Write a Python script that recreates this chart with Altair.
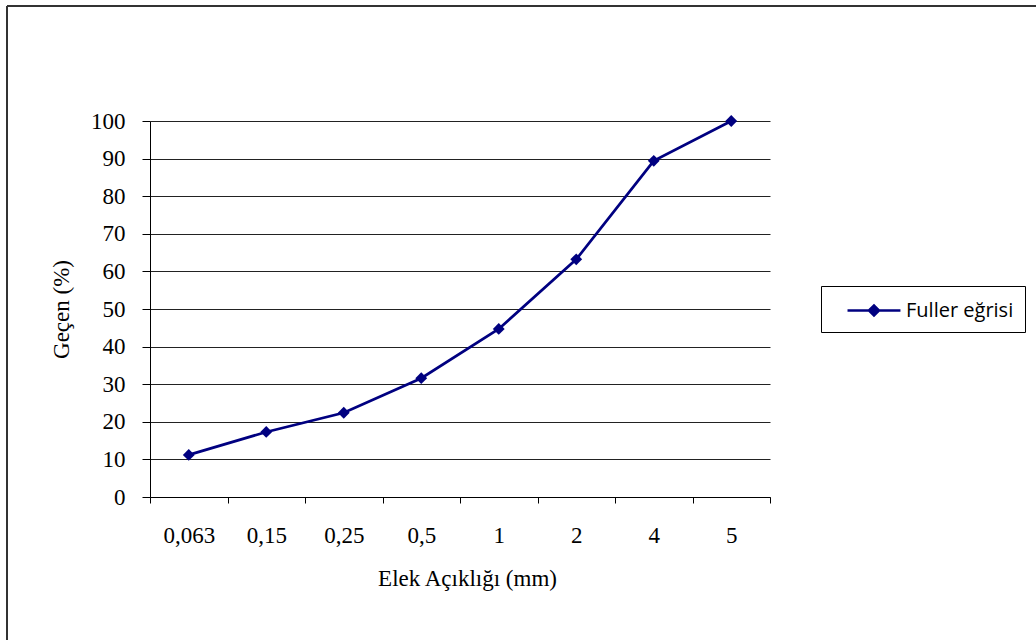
import altair as alt
import pandas as pd

sieve_sizes = ["0,063", "0,15", "0,25", "0,5", "1", "2", "4", "5"]
passing_pct = [11.2, 17.3, 22.4, 31.6, 44.7, 63.2, 89.4, 100.0]
y_ticks = [0, 10, 20, 30, 40, 50, 60, 70, 80, 90, 100]
series_name = "Fuller eğrisi"

df = pd.DataFrame({"size": sieve_sizes, "pct": passing_pct, "series": [series_name] * len(sieve_sizes)})

serif = "Liberation Serif"
navy = "#000080"

x_enc = alt.X(
    "size:N",
    sort=sieve_sizes,
    bandPosition=0.5,
    scale=alt.Scale(type="band", paddingInner=0, paddingOuter=0),
    axis=alt.Axis(
        title="Elek Açıklığı (mm)",
        tickBand="extent",
        labelAngle=0,
        grid=False,
        domainColor="#000",
        tickColor="#000",
        tickSize=6,
        labelPadding=21,
        labelFont=serif,
        labelFontSize=23,
        labelColor="#000",
        titleFont=serif,
        titleFontSize=23,
        titleFontWeight="normal",
        titleColor="#000",
        titleX=317,
        titleY=88,
        titleAlign="center",
        titleBaseline="alphabetic",
    ),
)

y_enc = alt.Y(
    "pct:Q",
    scale=alt.Scale(domain=[0, 100], nice=False, zero=True),
    axis=alt.Axis(
        title="Geçen (%)",
        values=y_ticks,
        grid=True,
        gridColor="#222",
        gridWidth=1,
        domainColor="#000",
        tickColor="#000",
        tickSize=8,
        labelPadding=17,
        labelFont=serif,
        labelFontSize=23,
        labelColor="#000",
        titleFont=serif,
        titleFontSize=23,
        titleFontWeight="normal",
        titleColor="#000",
        titleX=-89,
        titleY=188,
        titleAlign="center",
        titleBaseline="middle",
    ),
)

legend_symbol = "M0.167,0L4.58,0M1.955,0L2.375,-0.42L2.795,0L2.375,0.42Z"

line = alt.Chart(df).mark_line(strokeWidth=2.7).encode(
    x=x_enc,
    y=y_enc,
    color=alt.Color(
        "series:N",
        scale=alt.Scale(domain=[series_name], range=[navy]),
        legend=alt.Legend(
            title=None,
            orient="none",
            legendX=671,
            legendY=165,
            padding=11,
            strokeColor="#000",
            fillColor="#fff",
            symbolType=legend_symbol,
            symbolSize=576,
            symbolStrokeWidth=2.5,
            symbolFillColor=navy,
            symbolStrokeColor=navy,
            labelFont="Open Sans",
            labelFontSize=20,
            labelOffset=47,
            labelColor="#000",
        ),
    ),
)

points = alt.Chart(df).mark_point(shape="diamond", filled=True, size=140, color=navy, opacity=1).encode(
    x=x_enc,
    y=y_enc,
)

border_data = alt.InlineData(values=[{"k": 0}])
border_left = alt.Chart(border_data).mark_rule(color="#333", strokeWidth=2).encode(
    x=alt.value(-143), y=alt.value(-115), y2=alt.value(519)
)
border_top = alt.Chart(border_data).mark_rule(color="#333", strokeWidth=2).encode(
    y=alt.value(-115), x=alt.value(-143), x2=alt.value(886)
)

chart = (
    alt.layer(border_left, border_top, line, points)
    .properties(
        width=620,
        height=376,
        padding={"left": 150, "top": 121, "right": 266, "bottom": 143},
        autosize=alt.AutoSizeParams(type="none"),
        background="white",
    )
    .configure_view(stroke="transparent")
)

chart.save("out.html", embed_options={"renderer": "svg", "actions": False})
